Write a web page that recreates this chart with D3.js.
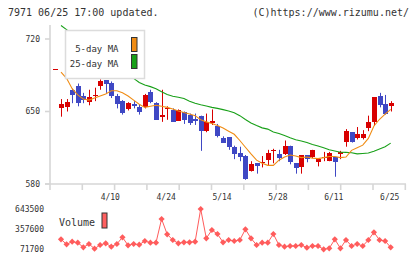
<!DOCTYPE html>
<html><head><meta charset="utf-8">
<script src="https://cdn.jsdelivr.net/npm/d3@7"></script>
<style>html,body{margin:0;padding:0;background:#fff;}svg{display:block;}</style>
</head><body>
<script>
// ---- data (index -1 .. 59) ----
const candleIndex = d3.range(-1, 60);
const open  = [691,653,654,671,675,665,659,665,675,680,678,665,660,652,657,654,654,669,658,645,652,651,641,650,647,643,646,631,639,636,624,625,616,610,607,593,600,600,603,612,609,609,617,600,596,608,606,601,605,602,606,609,621,630,624,624,634,640,665,657,655];
const high  = [691,662,662,672,677,668,671,673,681,680,679,667,661,659,660,657,667,671,659,671,655,653,652,650,648,648,646,648,652,638,626,625,617,616,608,602,600,607,613,614,613,622,617,600,608,608,613,605,611,611,606,612,633,630,635,632,646,664,668,666,660];
const low   = [691,645,650,658,655,658,656,660,671,668,663,653,647,651,653,647,653,658,642,640,642,640,641,638,637,637,612,630,637,625,620,613,604,602,584,592,590,596,598,600,602,608,599,590,590,601,605,597,602,602,587,604,616,620,623,623,631,636,654,647,650];
const close = [691,657,659,666,658,661,664,666,679,677,665,657,649,658,655,650,666,659,642,647,653,640,651,642,639,641,631,640,641,626,620,616,609,606,585,599,597,601,610,613,605,617,601,595,608,604,613,604,606,610,601,611,631,621,628,628,640,664,656,648,658];

const maIndex = d3.range(0, 60);
const ma5  = [688,682,672,666,662,661,663,665,667,670,670,668,665,661,657,654,655,656,655,654,652.5,650.5,649,647.5,646,642,640,638.5,636.5,634,631,628,622,615.5,609,603,600,598,598,603,606,608,607,605.5,606,605,604.5,605.5,606.5,606.5,605.5,606,612.5,615,617.5,624,636,642.5,647.5,652];
const ma25 = [733,729,725,721,717,713,709,705,700,696,692,688,685,682,678,675.5,674,672,669,666.5,664.8,663.8,662.5,660,658,656.5,655.3,654,653,651.8,650.5,648.8,646,642.3,639,636.5,634.2,633,630.2,628.7,626.8,624.6,622.7,621.6,620,618.2,616.7,615,613,611.8,610.7,610.5,610.1,609.1,609.5,610,611.7,613.8,616,619.5];

const volume = [210400,138900,176000,161800,96000,143200,76000,128900,153200,104600,143200,238900,124600,143200,133200,186100,161800,161800,500500,281800,200400,153200,167500,167500,176000,643500,224600,343300,286100,167500,200400,186100,200400,353300,224600,128900,161800,161800,286100,128900,104600,114600,114600,128900,90300,114600,114600,67400,81700,210400,81700,200400,114600,143200,114600,200400,310400,200400,186100,96000];

const priceTicks = [580, 650, 720];
const volumeTicks = [71700, 357600, 643500];
const dateTickIndex = [9, 19, 29, 39, 49, 59];
const dateTickLabels = ["4/10", "4/24", "5/14", "5/28", "6/11", "6/25"];
const legendLabels = ["5-day MA", "25-day MA"];

// ---- drawing ----
const W = 420, H = 259;
const RED = "#d80000", BLUE = "#3f48c4", ORANGE = "#f08c14", GREEN = "#18a018", VOL = "#ff5c5c";
const GRID = "#d6d6d6", TXT = "#333";
const MONO = "'DejaVu Sans Mono', monospace";

const svg = d3.select("body").append("svg").attr("width", W).attr("height", H);

const x = d3.scaleLinear().domain([-1, 59]).range([55.41, 390.7]);
const y = d3.scaleLinear().domain([580, 720]).range([184, 39]);
const yv = d3.scaleLinear().domain([71700, 643500]).range([249, 209]);
const gx = d3.scaleLinear().domain([0, 11]).range([50, 405.3]);

// header
svg.append("text").attr("x", 8).attr("y", 15.5).attr("font-family", MONO).attr("font-size", 10)
  .attr("fill", TXT).text("7971 06/25 17:00 updated.");
svg.append("text").attr("x", 409).attr("y", 15.5).attr("text-anchor", "end").attr("font-family", MONO)
  .attr("font-size", 10).attr("fill", TXT).text("(C)https://www.rizumu.net/");

// axes
svg.append("line").attr("x1", 50).attr("x2", 50).attr("y1", 25).attr("y2", 190)
  .attr("stroke", GRID).attr("stroke-width", 1.6);
svg.append("line").attr("x1", 45).attr("x2", 406).attr("y1", 184).attr("y2", 184)
  .attr("stroke", GRID).attr("stroke-width", 1.6);
svg.selectAll(".xt").data(d3.range(1, 12)).join("line")
  .attr("x1", d => gx(d)).attr("x2", d => gx(d)).attr("y1", 184).attr("y2", 190)
  .attr("stroke", GRID).attr("stroke-width", 1.6);
svg.selectAll(".yt").data(priceTicks).join("line")
  .attr("x1", 45).attr("x2", 50).attr("y1", d => y(d)).attr("y2", d => y(d))
  .attr("stroke", GRID).attr("stroke-width", 1.6);
svg.selectAll(".yl").data(priceTicks).join("text")
  .attr("x", 40).attr("y", d => y(d) + 2.8).attr("text-anchor", "end")
  .attr("font-family", MONO).attr("font-size", 8).attr("fill", TXT).text(d => d);

// x labels
svg.selectAll(".xl").data(dateTickIndex).join("text")
  .attr("x", d => x(d) - 1).attr("y", 200).attr("text-anchor", "middle")
  .attr("font-family", MONO).attr("font-size", 8).attr("fill", TXT).text((d, i) => dateTickLabels[i]);

// clip for price panel
svg.append("clipPath").attr("id", "pc").append("rect").attr("x", 50).attr("y", 24).attr("width", 360).attr("height", 160);
const pg = svg.append("g").attr("clip-path", "url(#pc)");

// candles
const cg = pg.append("g");
candleIndex.forEach((idx, k) => {
  const o = open[k], c = close[k], h = high[k], l = low[k];
  const col = c >= o ? RED : BLUE;
  const cx = Math.round(x(idx));
  cg.append("line").attr("x1", cx + 0.5).attr("x2", cx + 0.5).attr("y1", y(h)).attr("y2", y(l))
    .attr("stroke", col).attr("stroke-width", 1);
  const top = Math.round(y(Math.max(o, c))), bot = Math.round(y(Math.min(o, c)));
  cg.append("rect").attr("x", cx - 2).attr("y", top).attr("width", 5).attr("height", Math.max(1, bot - top))
    .attr("fill", col).attr("shape-rendering", "crispEdges");
});

// MA lines
const maLine = arr => d3.line().x((d, i) => x(maIndex[i])).y(d => y(d))(arr);
pg.append("path").attr("d", maLine(ma25)).attr("fill", "none").attr("stroke", GREEN).attr("stroke-width", 1.1);
pg.append("path").attr("d", maLine(ma5)).attr("fill", "none").attr("stroke", ORANGE).attr("stroke-width", 1.1);

// legend
svg.append("rect").attr("x", 65.5).attr("y", 30.5).attr("width", 79).attr("height", 48)
  .attr("fill", "#fff").attr("stroke", "#dcdcdc").attr("stroke-width", 1.5);
const legCols = [ORANGE, GREEN];
legendLabels.forEach((t, i) => {
  svg.append("text").attr("x", 118.5).attr("y", 51.5 + i * 15).attr("text-anchor", "end")
    .attr("font-family", MONO).attr("font-size", 9).attr("fill", TXT).text(t);
  svg.append("rect").attr("x", 131.5).attr("y", 37.5 + i * 17).attr("width", 5.5).attr("height", 14)
    .attr("fill", legCols[i]).attr("stroke", "#333").attr("stroke-width", 1);
});

// volume panel
svg.selectAll(".vl").data(volumeTicks).join("text")
  .attr("x", 44).attr("y", d => yv(d) + 2.8).attr("text-anchor", "end")
  .attr("font-family", MONO).attr("font-size", 8).attr("fill", TXT).text(d => d);
svg.append("text").attr("x", 59).attr("y", 226).attr("font-family", MONO).attr("font-size", 10)
  .attr("fill", TXT).text("Volume");
svg.append("rect").attr("x", 102).attr("y", 213).attr("width", 5).attr("height", 15)
  .attr("fill", "#ff6060").attr("stroke", "#333").attr("stroke-width", 1);

const vLine = d3.line().x((d, i) => x(maIndex[i])).y(d => yv(d));
svg.append("path").attr("d", vLine(volume)).attr("fill", "none").attr("stroke", VOL).attr("stroke-width", 1);
const sym = d3.symbol(d3.symbolSquare, 19);
svg.selectAll(".vm").data(volume).join("path")
  .attr("d", sym).attr("fill", VOL)
  .attr("transform", (d, i) => `translate(${x(maIndex[i])},${yv(d)}) rotate(45)`);
</script>
</body></html>
